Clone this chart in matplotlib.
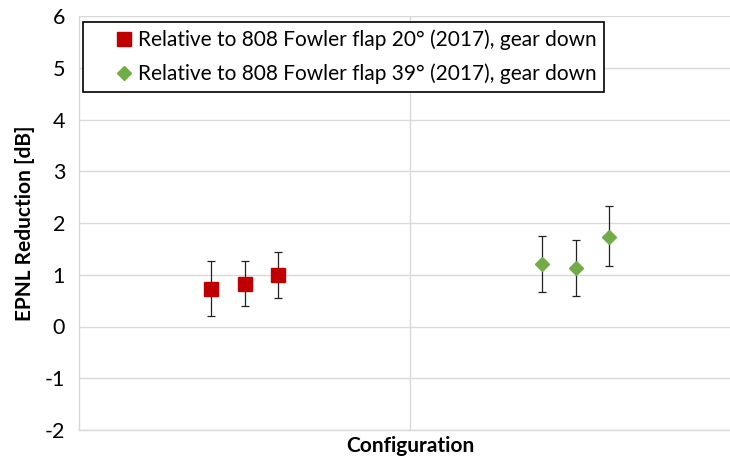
import matplotlib
matplotlib.use("Agg")
import matplotlib.pyplot as plt

# positions along the (unlabelled) configuration axis
x_flap20 = [0.4, 0.5, 0.6]
x_flap39 = [1.4, 1.5, 1.6]

# EPNL reduction [dB] with lower / upper ends of the error bars
y_flap20 = [0.73, 0.82, 1.00]
lo_flap20 = [0.20, 0.39, 0.545]
hi_flap20 = [1.26, 1.26, 1.44]

y_flap39 = [1.20, 1.13, 1.73]
lo_flap39 = [0.67, 0.58, 1.16]
hi_flap39 = [1.75, 1.67, 2.32]

label_20 = "Relative to 808 Fowler flap 20° (2017), gear down"
label_39 = "Relative to 808 Fowler flap 39° (2017), gear down"

plt.rcParams["font.family"] = ["Lato", "DejaVu Sans"]
plt.rcParams["axes.unicode_minus"] = False

fig = plt.figure(figsize=(7.3, 4.58), dpi=100)
ax = fig.add_axes([79 / 730, 1 - 430 / 458, 662 / 730, 414 / 458])

grid_c = "#D9D9D9"


def err(y, lo, hi):
    return [[v - l for v, l in zip(y, lo)], [h - v for v, h in zip(y, hi)]]


ax.errorbar(x_flap20, y_flap20, yerr=err(y_flap20, lo_flap20, hi_flap20),
            fmt="s", color="#C00000", markersize=9.5, ecolor="#222222",
            elinewidth=0.9, capsize=3, capthick=0.9, label=label_20, zorder=3)
ax.errorbar(x_flap39, y_flap39, yerr=err(y_flap39, lo_flap39, hi_flap39),
            fmt="D", color="#70AD47", markersize=7.2, ecolor="#222222",
            elinewidth=0.9, capsize=3, capthick=0.9, label=label_39, zorder=3)

ax.set_xlim(0, 2)
ax.set_ylim(-2, 6)
ax.set_yticks(range(-2, 7))
ax.set_xticks([1])
ax.tick_params(axis="x", length=0, labelbottom=False)
ax.tick_params(axis="y", length=0, labelsize=15.5, pad=10)
ax.grid(True, color=grid_c, linewidth=1.0)
ax.set_axisbelow(True)
for side in ["top", "right"]:
    ax.spines[side].set_visible(False)
for side in ["left", "bottom"]:
    ax.spines[side].set_color(grid_c)
    ax.spines[side].set_linewidth(1.0)

ax.set_ylabel("EPNL Reduction [dB]", fontsize=15, fontweight="bold", labelpad=7)
ax.set_xlabel("Configuration", fontsize=15, fontweight="bold", labelpad=4)

handles, labels = ax.get_legend_handles_labels()
handles = [h[0] for h in handles]
leg = ax.legend(handles, labels, loc="upper left", bbox_to_anchor=(0.006, 0.986),
                fontsize=15, frameon=True, fancybox=False, edgecolor="black",
                framealpha=1, borderpad=0.38, handletextpad=-0.95, handlelength=3.2,
                labelspacing=0.65, borderaxespad=0)
leg.get_frame().set_linewidth(1.2)

fig.savefig("out.png", dpi=100)
